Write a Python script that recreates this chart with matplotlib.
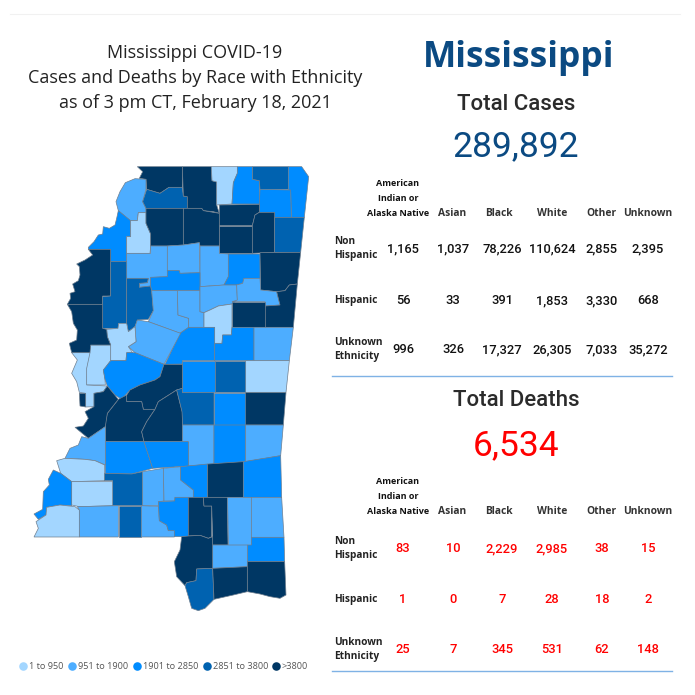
# -*- coding: utf-8 -*-
import matplotlib.pyplot as plt
from matplotlib.patches import Polygon

races = ['Asian', 'Black', 'White', 'Other', 'Unknown']
ethnicity = ['Non\nHispanic', 'Hispanic', 'Unknown\nEthnicity']
cases = [['1,165', '1,037', '78,226', '110,624', '2,855', '2,395'],
         ['56', '33', '391', '1,853', '3,330', '668'],
         ['996', '326', '17,327', '26,305', '7,033', '35,272']]
deaths = [['83', '10', '2,229', '2,985', '38', '15'],
          ['1', '0', '7', '28', '18', '2'],
          ['25', '7', '345', '531', '62', '148']]
legend_labels = ['1 to 950', '951 to 1900', '1901 to 2850', '2851 to 3800', '>3800']
colors = ['#A3D6FF', '#4DADFF', '#008CFF', '#0062B0', '#003764']

# county outlines, (bin, points), in 3x zoom pixels
north = [
    (5, [(352,20),(487,20),(487,82),(447,82),(420,100),(380,88),(378,58),(358,55),(368,35)]),
    (2, [(378,58),(345,56),(316,68),(300,95),(288,125),(295,152),(330,182),(352,182),(355,158),(378,158),(378,145),(368,125),(378,88)]),
    (4, [(380,88),(420,100),(447,82),(487,82),(490,108),(502,110),(502,145),(378,145),(368,125)]),
    (5, [(487,20),(574,20),(576,62),(590,66),(590,135),(598,160),(580,155),(550,152),(545,145),(502,145),(502,110),(490,108)]),
    (1, [(574,20),(652,20),(652,40),(640,68),(636,132),(590,135),(590,66),(576,62)]),
    (3, [(652,20),(698,20),(698,58),(718,62),(720,132),(636,132),(640,68),(652,40)]),
    (4, [(698,20),(805,20),(805,88),(720,88),(718,62),(698,58)]),
    (3, [(805,20),(845,20),(866,50),(853,172),(814,172),(812,95),(805,88)]),
    (3, [(720,88),(812,90),(814,172),(764,172),(764,157),(718,157),(718,132)]),
    (3, [(295,152),(332,182),(332,230),(320,230),(320,305),(272,305),(272,268),(205,268),(205,262),(222,245),(235,225),(248,222),(250,200),(268,205),(285,195),(290,175)]),
    (1, [(332,182),(352,182),(355,158),(378,158),(378,190),(392,222),(392,258),(390,280),(320,280),(320,230),(332,230)]),
    (5, [(378,145),(490,145),(490,255),(442,258),(392,258),(392,222),(378,190)]),
    (5, [(490,145),(545,145),(550,152),(598,160),(598,258),(540,258),(538,248),(490,255)]),
    (5, [(598,135),(718,133),(718,157),(705,165),(697,197),(598,197)]),
    (5, [(598,197),(697,197),(697,280),(598,280)]),
    (5, [(697,197),(705,165),(718,157),(764,157),(764,277),(697,280)]),
    (4, [(764,172),(853,172),(842,277),(764,277)]),
    (2, [(320,280),(392,280),(392,258),(442,258),(442,350),(400,352),(392,352),(392,378),(358,382),(358,370),(382,368),(385,355),(320,355)]),
    (2, [(442,258),(490,255),(538,248),(540,338),(480,340),(478,332),(442,332)]),
    (2, [(540,258),(598,258),(598,280),(625,282),(625,350),(612,375),(540,380)]),
    (3, [(625,282),(720,282),(720,355),(672,355),(668,370),(650,375),(612,375),(625,350)]),
    (5, [(720,278),(842,277),(832,372),(808,375),(795,392),(770,395),(722,390)]),
    (5, [(205,268),(272,268),(272,408),(248,408),(248,433),(142,433),(152,415),(150,400),(165,395),(158,372),(175,362),(180,345),(178,320),(170,312),(195,300),(218,285)]),
    (4, [(272,305),(320,305),(320,490),(296,490),(294,505),(248,505),(248,410),(272,408)]),
    (4, [(320,355),(385,355),(382,368),(358,370),(358,382),(392,378),(395,392),(400,452),(385,478),(352,480),(345,500),(325,515),(320,490)]),
    (3, [(392,352),(442,350),(442,332),(478,332),(480,340),(540,338),(540,392),(472,392),(395,392),(392,378)]),
    (2, [(395,392),(472,392),(474,465),(506,475),(506,502),(480,520),(385,485),(400,452)]),
    (2, [(472,392),(540,392),(540,455),(552,458),(552,502),(506,502),(506,475),(474,465)]),
    (2, [(540,380),(612,375),(650,375),(652,420),(636,432),(595,438),(570,450),(552,458),(540,455)]),
    (2, [(650,375),(668,370),(672,355),(720,355),(722,390),(770,395),(780,435),(735,438),(735,425),(636,425),(652,420)]),
    (5, [(770,395),(795,392),(808,375),(832,372),(820,502),(735,502),(735,438),(780,435)]),
    (5, [(636,425),(735,425),(735,502),(636,502)]),
    (1, [(552,458),(570,450),(595,438),(636,432),(636,502),(634,525),(608,525),(606,550),(584,550),(584,502),(552,502)]),
    (3, [(506,502),(584,502),(584,602),(487,602),(487,612),(435,613),(480,520)]),
    (3, [(584,550),(606,550),(608,525),(634,525),(636,502),(702,502),(702,602),(584,602)]),
    (2, [(702,502),(820,502),(808,602),(702,602)]),
    (2, [(352,480),(385,485),(482,520),(432,613),(345,578),(325,560),(348,545),(345,500)]),
    (1, [(260,508),(294,505),(296,490),(320,490),(325,515),(345,500),(348,545),(325,560),(338,578),(320,578),(318,602),(272,602),(272,555),(262,530)]),
    (1, [(212,555),(272,555),(272,602),(258,620),(250,630),(255,658),(256,675),(200,675),(198,625)]),
    (1, [(155,578),(210,578),(200,625),(200,675),(262,678),(250,695),(222,700),(222,740),(197,741),(197,700),(178,697),(170,665),(155,640),(172,600)]),
    (5, [(142,433),(248,433),(248,505),(260,508),(262,530),(272,555),(212,555),(210,578),(155,578),(148,550),(170,540),(172,510),(160,490),(155,455)]),
    (3, [(320,578),(345,578),(432,613),(420,650),(405,660),(360,675),(330,690),(305,718),(285,705),(262,678),(255,658),(250,630),(258,620),(272,602),(318,602)]),
    (3, [(487,602),(584,602),(584,697),(487,697)]),
    (4, [(584,602),(677,602),(677,697),(584,697)]),
    (1, [(677,602),(808,602),(798,697),(677,697)]),
]
south = [
    (5, [(432,-77),(487,-77),(487,-5),(470,0),(415,35),(405,58),(370,58),(365,35),(320,35),(320,15),(330,0),(360,-15),(405,-30),(420,-40)]),
    (5, [(295,28),(320,15),(320,35),(365,35),(370,58),(405,58),(380,95),(365,125),(372,155),(256,155),(256,100),(262,70)]),
    (5, [(222,10),(250,5),(262,-12),(295,28),(262,70),(256,110),(205,145),(165,112),(190,108),(205,85),(195,65),(222,50)]),
    (5, [(178,10),(197,10),(197,51),(180,48)]),
    (5, [(415,35),(470,0),(480,40),(488,70),(488,155),(372,155),(365,125),(380,95),(405,58)]),
    (4, [(470,0),(487,-5),(487,8),(582,8),(582,105),(488,105),(486,65),(480,40)]),
    (3, [(582,8),(677,8),(677,105),(582,105)]),
    (5, [(677,8),(798,8),(790,105),(677,105)]),
    (2, [(488,105),(582,105),(582,222),(506,228),(505,155),(488,155)]),
    (3, [(582,105),(677,105),(677,215),(582,222)]),
    (2, [(677,105),(790,105),(782,197),(677,215)]),
    (3, [(256,155),(372,155),(398,235),(335,252),(256,250)]),
    (3, [(372,155),(505,155),(506,228),(398,235)]),
    (2, [(256,110),(256,225),(225,212),(195,208),(135,205),(150,175),(175,165),(185,140),(205,145)]),
    (1, [(110,212),(135,205),(195,208),(225,212),(254,225),(254,272),(155,275),(122,250)]),
    (4, [(254,250),(335,252),(368,245),(368,347),(278,347),(278,272),(254,272)]),
    (1, [(155,275),(278,275),(278,347),(178,350),(155,345)]),
    (3, [(100,240),(122,250),(155,275),(155,347),(120,345),(80,352),(78,375),(55,388),(42,372),(68,358),(70,305),(88,285),(85,268)]),
    (1, [(80,352),(120,345),(165,350),(178,360),(178,441),(42,441),(55,415),(48,395),(78,375)]),
    (2, [(178,360),(172,350),(295,347),(295,441),(178,441)]),
    (4, [(296,347),(364,347),(364,441),(296,441)]),
    (2, [(364,347),(415,349),(418,392),(440,405),(445,422),(463,422),(463,441),(364,441)]),
    (2, [(368,245),(430,235),(432,333),(415,335),(415,347),(368,347)]),
    (2, [(430,235),(482,230),(482,270),(520,300),(520,322),(465,322),(464,333),(432,333)]),
    (3, [(482,230),(563,222),(563,322),(520,322),(520,300),(482,270)]),
    (5, [(563,222),(670,215),(670,322),(563,322)]),
    (3, [(670,215),(782,197),(785,322),(670,322)]),
    (3, [(415,335),(464,333),(465,322),(505,322),(505,440),(463,440),(463,422),(445,422),(440,405),(418,392)]),
    (5, [(505,322),(550,322),(552,348),(575,348),(575,440),(565,445),(540,436),(505,438)]),
    (5, [(550,322),(622,322),(624,465),(578,465),(578,440),(575,348),(552,348)]),
    (2, [(622,322),(694,322),(694,465),(624,465)]),
    (2, [(694,322),(785,322),(792,442),(694,442)]),
    (3, [(694,442),(792,442),(794,515),(682,515),(682,465),(694,465)]),
    (2, [(578,465),(682,465),(682,530),(578,535)]),
    (5, [(485,440),(505,438),(540,436),(565,445),(578,440),(578,535),(530,537),(528,572),(500,578),(495,587),(470,560),(463,515),(480,480)]),
    (4, [(530,537),(578,535),(582,628),(555,655),(535,662),(515,655),(505,620),(495,587),(500,578),(528,572)]),
    (5, [(578,535),(682,530),(682,605),(640,615),(582,628)]),
    (5, [(682,515),(794,515),(798,615),(780,625),(750,620),(720,612),(682,605)]),
]

plt.rcParams['font.family'] = ['Open Sans', 'DejaVu Sans']
fig = plt.figure(figsize=(6.95, 6.95), dpi=100)
ax = fig.add_axes([0, 0, 1, 1])
ax.set_xlim(0, 695)
ax.set_ylim(695, 0)
ax.axis('off')

for bin_no, pts in north:
    xy = [(20 + x / 3, 160 + y / 3) for x, y in pts]
    ax.add_patch(Polygon(xy, fc=colors[bin_no - 1], ec='#6F7F8F', lw=0.5))
for bin_no, pts in south:
    xy = [(20 + x / 3, 390 + y / 3) for x, y in pts]
    ax.add_patch(Polygon(xy, fc=colors[bin_no - 1], ec='#6F7F8F', lw=0.5))

# frame lines
ax.plot([10, 680], [13.5, 13.5], color='#F1F1F1', lw=0.8)
ax.plot([332, 672], [376, 376], color='#7FB2E5', lw=1)
ax.plot([332, 672], [671, 671], color='#7FB2E5', lw=1)

for txt, y in zip(['Mississippi COVID-19', 'Cases and Deaths by Race with Ethnicity',
                   'as of 3 pm CT, February 18, 2021'], [52.5, 78, 103]):
    ax.text(195, y, txt, ha='center', va='center', fontsize=13, color='#222222')
ax.text(519, 57.5, 'Mississippi', ha='center', va='center', fontsize=25.5, fontweight='bold', color='#0B4A82')
ax.text(516, 104, 'Total Cases', ha='center', va='center', family='Roboto', fontsize=16, fontweight='medium', color='#2B2B2B')
ax.text(516, 147, '289,892', ha='center', va='center', family='Roboto', fontsize=25.5, color='#0B4A82')
ax.text(516, 401, 'Total Deaths', ha='center', va='center', family='Roboto', fontsize=16, fontweight='medium', color='#2B2B2B')
ax.text(516, 445.5, '6,534', ha='center', va='center', family='Roboto', fontsize=25.5, color='#FF0000')

col_x = [403, 453, 502, 552, 602, 648]
head_x = [452, 499, 552, 601, 648]


def draw_table(head_top, row_y, values, color):
    for i, line in enumerate(['American', 'Indian or', 'Alaska Native']):
        ax.text(398, head_top + i * 15, line, ha='center', va='center', fontsize=6.5, fontweight='bold', color='#111111')
    for name, x in zip(races, head_x):
        ax.text(x, head_top + 30, name, ha='center', va='center', fontsize=7.4, fontweight='bold', color='#333333')
    for label, y, row in zip(ethnicity, row_y, values):
        ax.text(334, y, label, ha='left', va='center', fontsize=7.3, fontweight='bold', color='#222222', linespacing=1.35)
        for x, val in zip(col_x, row):
            ax.text(x, y, val, ha='center', va='center', family='Roboto', fontsize=9.3, fontweight='medium', color=color)


draw_table(183.5, [248.5, 300.5, 349.5], cases, '#111111')
draw_table(481.5, [548.5, 599.5, 649.5], deaths, '#FF0000')

# legend
leg_x = [23, 72, 137, 207, 276]
for x, c, lab in zip(leg_x, colors, legend_labels):
    ax.scatter([x], [666], s=38, color=c, linewidths=0)
    ax.text(x + 6, 666.5, lab, ha='left', va='center', fontsize=6.6, color='#555555')

fig.savefig('out.png', dpi=100)
